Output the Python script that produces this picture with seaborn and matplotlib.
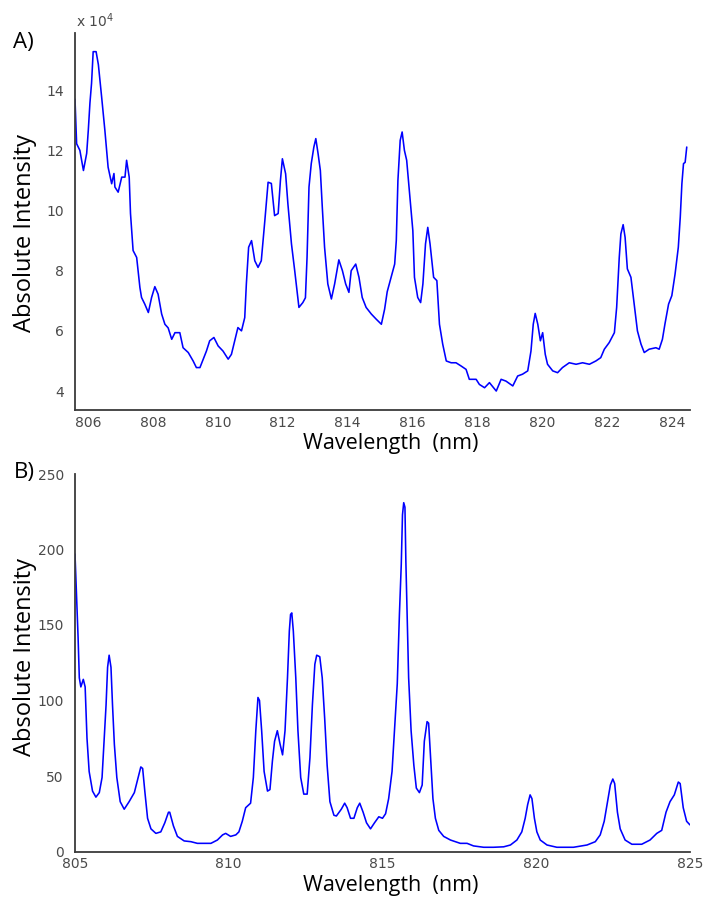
import matplotlib
matplotlib.use("Agg")
import matplotlib.pyplot as plt
import seaborn as sns
import pandas as pd

# ---------------- data ----------------
# Panel A: wavelength (nm) and absolute intensity (x 10^4)
wl_a = [805.60, 805.65, 805.75, 805.86, 805.96, 806.01, 806.06, 806.11, 806.16, 806.25,
        806.32, 806.42, 806.52, 806.62, 806.73, 806.80, 806.83, 806.93, 807.04, 807.14,
        807.19, 807.27, 807.31, 807.39, 807.50, 807.60, 807.65, 807.75, 807.86, 807.96,
        808.06, 808.16, 808.27, 808.37, 808.47, 808.58, 808.68, 808.83, 808.93, 809.09,
        809.24, 809.34, 809.45, 809.55, 809.65, 809.75, 809.88, 810.01, 810.16, 810.32,
        810.42, 810.52, 810.62, 810.73, 810.83, 810.88, 810.95, 811.04, 811.14, 811.24,
        811.34, 811.45, 811.55, 811.65, 811.75, 811.86, 811.93, 811.99, 812.09, 812.16,
        812.27, 812.37, 812.50, 812.62, 812.70, 812.75, 812.81, 812.88, 812.96, 813.02,
        813.09, 813.16, 813.22, 813.29, 813.39, 813.50, 813.60, 813.73, 813.84, 813.94,
        814.04, 814.11, 814.25, 814.35, 814.45, 814.57, 814.73, 814.88, 815.04, 815.14,
        815.22, 815.34, 815.45, 815.50, 815.55, 815.62, 815.68, 815.75, 815.82, 815.91,
        816.01, 816.06, 816.16, 816.25, 816.32, 816.40, 816.47, 816.54, 816.65, 816.75,
        816.83, 816.93, 817.04, 817.19, 817.34, 817.50, 817.65, 817.75, 817.96, 818.06,
        818.22, 818.37, 818.58, 818.73, 818.88, 819.09, 819.24, 819.39, 819.55, 819.65,
        819.72, 819.78, 819.86, 819.94, 820.01, 820.09, 820.16, 820.32, 820.47, 820.62,
        820.83, 821.04, 821.24, 821.45, 821.65, 821.80, 821.91, 822.06, 822.22, 822.29,
        822.37, 822.42, 822.49, 822.55, 822.62, 822.73, 822.83, 822.93, 823.04, 823.14,
        823.29, 823.50, 823.60, 823.70, 823.78, 823.89, 823.99, 824.09, 824.19, 824.25,
        824.30, 824.35, 824.40, 824.45]
int_a = [13.70, 12.22, 12.00, 11.33, 11.90, 12.67, 13.57, 14.23, 15.28, 15.28,
         14.85, 13.78, 12.67, 11.44, 10.89, 11.23, 10.78, 10.61, 11.11, 11.11,
         11.67, 11.11, 9.90, 8.67, 8.44, 7.44, 7.11, 6.89, 6.61, 7.11,
         7.47, 7.22, 6.56, 6.22, 6.10, 5.72, 5.94, 5.94, 5.44, 5.28,
         5.00, 4.78, 4.78, 5.06, 5.33, 5.67, 5.78, 5.50, 5.33, 5.06,
         5.22, 5.67, 6.11, 6.00, 6.44, 7.56, 8.78, 9.00, 8.33, 8.11,
         8.33, 9.67, 10.94, 10.90, 9.83, 9.90, 11.00, 11.72, 11.22, 10.22,
         8.89, 8.00, 6.78, 6.94, 7.10, 8.44, 10.78, 11.56, 12.11, 12.39,
         11.89, 11.33, 10.11, 8.78, 7.56, 7.06, 7.56, 8.36, 8.00, 7.56,
         7.28, 8.00, 8.22, 7.78, 7.11, 6.78, 6.56, 6.39, 6.22, 6.72,
         7.30, 7.78, 8.22, 9.00, 11.00, 12.33, 12.61, 12.00, 11.67, 10.56,
         9.33, 7.78, 7.11, 6.94, 7.56, 8.89, 9.44, 8.89, 7.78, 7.67,
         6.22, 5.56, 5.00, 4.94, 4.94, 4.83, 4.72, 4.39, 4.39, 4.22,
         4.11, 4.28, 4.00, 4.39, 4.33, 4.17, 4.50, 4.56, 4.67, 5.33,
         6.22, 6.58, 6.22, 5.67, 5.94, 5.22, 4.89, 4.67, 4.61, 4.78,
         4.94, 4.89, 4.94, 4.89, 5.00, 5.11, 5.39, 5.61, 5.94, 6.78,
         8.44, 9.22, 9.53, 9.11, 8.06, 7.78, 6.89, 6.00, 5.56, 5.28,
         5.39, 5.44, 5.39, 5.72, 6.24, 6.89, 7.17, 7.89, 8.78, 9.78,
         10.89, 11.56, 11.60, 12.11]

# Panel B: wavelength (nm) and absolute intensity
wl_b = [805.00, 805.05, 805.10, 805.14, 805.19, 805.27, 805.33, 805.39, 805.46, 805.57,
        805.68, 805.79, 805.88, 805.95, 806.01, 806.06, 806.11, 806.17, 806.22, 806.28,
        806.36, 806.47, 806.60, 806.76, 806.93, 807.04, 807.14, 807.20, 807.27, 807.36,
        807.47, 807.63, 807.79, 807.92, 808.04, 808.08, 808.20, 808.33, 808.55, 808.77,
        808.98, 809.42, 809.63, 809.80, 809.90, 810.06, 810.23, 810.33, 810.44, 810.55,
        810.71, 810.80, 810.88, 810.95, 811.00, 811.07, 811.15, 811.26, 811.34, 811.42,
        811.49, 811.58, 811.67, 811.75, 811.83, 811.91, 811.97, 812.01, 812.05, 812.10,
        812.18, 812.25, 812.34, 812.44, 812.55, 812.64, 812.72, 812.80, 812.86, 812.96,
        813.04, 813.12, 813.20, 813.29, 813.42, 813.50, 813.66, 813.77, 813.85, 813.96,
        814.07, 814.18, 814.26, 814.37, 814.48, 814.61, 814.74, 814.88, 815.00, 815.10,
        815.20, 815.31, 815.39, 815.48, 815.55, 815.61, 815.65, 815.69, 815.73, 815.76,
        815.80, 815.85, 815.93, 816.02, 816.10, 816.20, 816.29, 816.36, 816.45, 816.50,
        816.56, 816.64, 816.72, 816.83, 816.99, 817.21, 817.53, 817.75, 817.96, 818.29,
        818.61, 818.94, 819.16, 819.37, 819.53, 819.64, 819.72, 819.80, 819.86, 819.94,
        820.02, 820.13, 820.35, 820.67, 821.21, 821.65, 821.92, 822.08, 822.21, 822.32,
        822.41, 822.49, 822.55, 822.64, 822.73, 822.89, 823.11, 823.43, 823.70, 823.92,
        824.08, 824.22, 824.35, 824.49, 824.62, 824.68, 824.78, 824.89, 825.00]
int_b = [197, 170, 142, 115, 109, 114, 109, 75, 53, 40,
         36, 39, 49, 75, 97, 122, 130, 122, 97, 71,
         49, 33, 28, 33, 39, 48, 56, 55, 40, 22,
         15, 12, 13, 19, 26, 26, 17, 10, 7, 6.5,
         5.4, 5.4, 7.6, 11, 12, 10, 11, 13, 20, 29,
         32, 49, 80, 102, 100, 80, 53, 40, 41, 60,
         73, 80, 71, 64, 80, 115, 146, 157, 158, 146,
         115, 80, 49, 38, 38, 62, 97, 124, 130, 129,
         115, 88, 57, 33, 24, 23.5, 28, 32, 29, 22,
         22, 29, 32, 26, 19, 15, 19, 23, 22, 25,
         35, 53, 80, 111, 157, 190, 223, 231, 228, 192,
         157, 115, 80, 57, 42, 39, 44, 73, 86, 85,
         64, 35, 22, 14, 10, 7.6, 5.4, 5.4, 3.7, 2.8,
         2.8, 3.1, 4.3, 7.6, 13, 22, 31, 37.5, 35, 22,
         13, 7.6, 4.3, 2.8, 2.8, 4.3, 6.5, 11, 20, 33,
         44, 48, 45, 26, 15, 7.6, 4.8, 4.8, 7.6, 12,
         14, 26, 33, 37.5, 46, 45, 29, 20, 17.6]

xticks_a = [806, 808, 810, 812, 814, 816, 818, 820, 822, 824]
yticks_a = [4, 6, 8, 10, 12, 14]
xticks_b = [805, 810, 815, 820, 825]
yticks_b = [0, 50, 100, 150, 200, 250]

panel_labels = ["A)", "B)"]
x_label = "Wavelength  (nm)"
y_label = "Absolute Intensity"
exp_label = "x 10$^{4}$"

# ---------------- style ----------------
sns.set_style("white")
plt.rcParams["font.family"] = ["DejaVu Sans"]

W, H = 705, 899
fig = plt.figure(figsize=(W / 100, H / 100), dpi=100)

def fx(px):
    return px / W

def fy(py):
    return 1 - py / H

ax1 = fig.add_axes([fx(75), fy(410), fx(690) - fx(75), fy(33) - fy(410)])
ax2 = fig.add_axes([fx(75), fy(851.5), fx(690) - fx(75), fy(474) - fy(851.5)])

df_a = pd.DataFrame({"wl": wl_a, "I": int_a})
df_b = pd.DataFrame({"wl": wl_b, "I": int_b})

line_kw = dict(color="#0000ff", linewidth=1.15, estimator=None, sort=False)
sns.lineplot(data=df_a, x="wl", y="I", ax=ax1, **line_kw)
sns.lineplot(data=df_b, x="wl", y="I", ax=ax2, **line_kw)

ax1.set_xlim(805.6, 824.55)
ax1.set_ylim(3.37, 15.9)
ax1.set_xticks(xticks_a)
ax1.set_yticks(yticks_a)
ax2.set_xlim(805, 825)
ax2.set_ylim(0, 250)
ax2.set_xticks(xticks_b)
ax2.set_yticks(yticks_b)

xlabel_font = dict(family=["Open Sans", "DejaVu Sans"], size=15.5, color="#000000")
ylabel_font = dict(family=["Open Sans", "DejaVu Sans"], size=17, color="#000000")

for ax, yl_y, xl_y in ((ax1, 0.47, -0.060), (ax2, 0.515, -0.062)):
    for s in ("top", "right"):
        ax.spines[s].set_visible(False)
    for s in ("left", "bottom"):
        ax.spines[s].set_color("#3a3a3a")
        ax.spines[s].set_linewidth(1.3)
    ax.tick_params(axis="both", direction="in", length=5, width=1.1,
                   color="#3a3a3a", labelcolor="#4a4a4a", labelsize=10)
    ax.tick_params(axis="y", pad=8)
    ax.tick_params(axis="x", pad=4)
    ax.set_xlabel(x_label, fontdict=xlabel_font)
    ax.set_ylabel(y_label, fontdict=ylabel_font)
    ax.xaxis.set_label_coords(0.514, xl_y)
    ax.yaxis.set_label_coords(-0.061, yl_y)
    ax.grid(False)
    ax.set_facecolor("white")

fig.text(fx(13), fy(48), panel_labels[0], ha="left", va="baseline",
         family=["Open Sans", "DejaVu Sans"], size=16, color="#000000")
fig.text(fx(14), fy(478), panel_labels[1], ha="left", va="baseline",
         family=["Open Sans", "DejaVu Sans"], size=16, color="#000000")
fig.text(fx(76), fy(27), exp_label, ha="left", va="baseline",
         size=10, color="#4a4a4a")

fig.savefig("out.png", dpi=100, facecolor="white")
